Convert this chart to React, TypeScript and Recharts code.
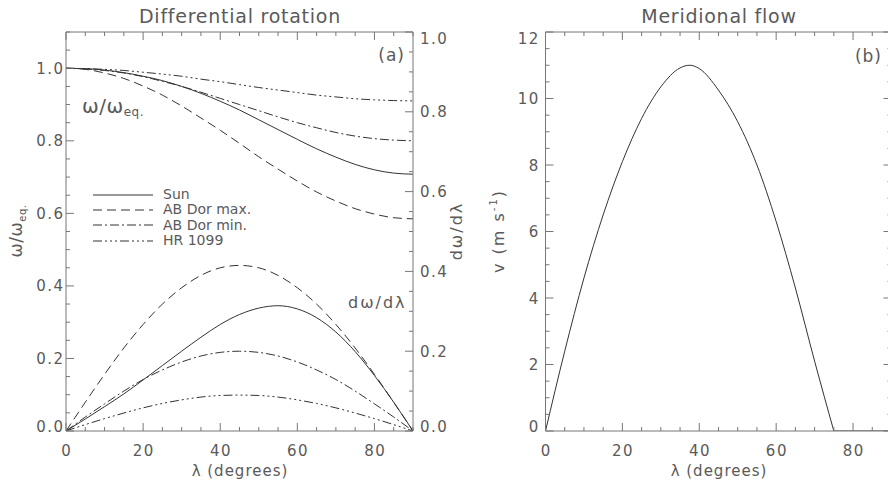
import React from "react";
import { LineChart, Line, XAxis, YAxis, Legend } from "recharts";

// latitude grid (degrees) for panel (a)
const latitude = [0, 5, 10, 15, 20, 25, 30, 35, 40, 45, 50, 55, 60, 65, 70, 75, 80, 85, 90];

// omega / omega_eq
const sunOmega = [1, 0.999, 0.995, 0.988, 0.978, 0.966, 0.95, 0.931, 0.909, 0.885, 0.858, 0.831, 0.804, 0.778, 0.755, 0.735, 0.72, 0.711, 0.708];
const abMaxOmega = [1, 0.997, 0.987, 0.972, 0.951, 0.926, 0.896, 0.863, 0.829, 0.793, 0.756, 0.722, 0.689, 0.659, 0.634, 0.613, 0.598, 0.588, 0.585];
const abMinOmega = [1, 0.998, 0.994, 0.987, 0.977, 0.964, 0.95, 0.934, 0.917, 0.9, 0.883, 0.866, 0.85, 0.836, 0.823, 0.813, 0.806, 0.802, 0.8];
const hrOmega = [1, 0.999, 0.997, 0.994, 0.989, 0.984, 0.978, 0.97, 0.963, 0.955, 0.947, 0.94, 0.933, 0.926, 0.921, 0.916, 0.913, 0.911, 0.91];

// d omega / d lambda
const sunDeriv = [0, 0.03, 0.061, 0.093, 0.128, 0.164, 0.2, 0.235, 0.267, 0.292, 0.308, 0.314, 0.306, 0.284, 0.248, 0.199, 0.139, 0.072, 0];
const abMaxDeriv = [0, 0.072, 0.142, 0.208, 0.267, 0.318, 0.359, 0.39, 0.409, 0.415, 0.409, 0.39, 0.359, 0.318, 0.267, 0.208, 0.142, 0.072, 0];
const abMinDeriv = [0, 0.035, 0.068, 0.1, 0.129, 0.153, 0.173, 0.188, 0.197, 0.2, 0.197, 0.188, 0.173, 0.153, 0.129, 0.1, 0.068, 0.035, 0];
const hrDeriv = [0, 0.016, 0.031, 0.045, 0.058, 0.069, 0.078, 0.085, 0.089, 0.09, 0.089, 0.085, 0.078, 0.069, 0.058, 0.045, 0.031, 0.016, 0];

const seriesNames = ["Sun", "AB Dor max.", "AB Dor min.", "HR 1099"];

// panel (b): meridional flow speed (m/s)
const flowLatitude = [0, 5, 10, 15, 20, 25, 30, 35, 37.5, 40, 45, 50, 55, 60, 65, 70, 75, 80, 85, 90];
const flowSpeed = [0, 2.4, 4.6, 6.5, 8.1, 9.4, 10.35, 10.92, 11.0, 10.9, 10.25, 9.3, 8.0, 6.3, 4.3, 2.1, 0, null, null, null];
const flowRest = [null, null, null, null, null, null, null, null, null, null, null, null, null, null, null, null, 0, 0, 0, 0];

// ticks (minor lists hold every tick mark, major lists the labelled ones)
const xMajor = [0, 20, 40, 60, 80];
const xMinor = [0, 5, 10, 15, 20, 25, 30, 35, 40, 45, 50, 55, 60, 65, 70, 75, 80, 85, 90];
const wMajor = [0, 0.2, 0.4, 0.6, 0.8, 1.0];
const wMinor = [0, 0.05, 0.1, 0.15, 0.2, 0.25, 0.3, 0.35, 0.4, 0.45, 0.5, 0.55, 0.6, 0.65, 0.7, 0.75, 0.8, 0.85, 0.9, 0.95, 1.0, 1.05, 1.1];
const dMajor = [0, 0.2, 0.4, 0.6, 0.8, 1.0];
const dMinor = [0, 0.05, 0.1, 0.15, 0.2, 0.25, 0.3, 0.35, 0.4, 0.45, 0.5, 0.55, 0.6, 0.65, 0.7, 0.75, 0.8, 0.85, 0.9, 0.95, 1.0];
const vMajor = [0, 2, 4, 6, 8, 10, 12];
const vMinor = [0, 0.5, 1, 1.5, 2, 2.5, 3, 3.5, 4, 4.5, 5, 5.5, 6, 6.5, 7, 7.5, 8, 8.5, 9, 9.5, 10, 10.5, 11, 11.5, 12];

const rotationRows = latitude.map((lat, i) => ({
  lat,
  sunW: sunOmega[i],
  abMaxW: abMaxOmega[i],
  abMinW: abMinOmega[i],
  hrW: hrOmega[i],
  sunD: sunDeriv[i],
  abMaxD: abMaxDeriv[i],
  abMinD: abMinDeriv[i],
  hrD: hrDeriv[i],
}));

const flowRows = flowLatitude.map((lat, i) => ({ lat, v: flowSpeed[i], rest: flowRest[i] }));

const FONT = "'DejaVu Sans', sans-serif";
const INK = "#333";
const AXIS = "#777";
const TEXT = "#5a5a5a";

const omegaKeys = ["sunW", "abMaxW", "abMinW", "hrW"];
const derivKeys = ["sunD", "abMaxD", "abMinD", "hrD"];
const dashes = [undefined, "9 5", "9 3 2 3", "9 3 2 3 2 3 2 3"];

const axisLine = { stroke: AXIS, strokeWidth: 1 };

type Side = "bottom" | "top" | "left" | "right";
type TickOpts = { majors: number[]; digits?: number; gap?: number; lo?: number; hi?: number; labels?: boolean };

// inward tick mark (long for majors) plus the label of the majors
const makeTick = (side: Side, o: TickOpts) => (p: any) => {
  const v = Number(p.payload.value);
  const x = Number(p.x);
  const y = Number(p.y);
  const major = o.majors.some((m) => Math.abs(m - v) < 1e-9);
  const len = major ? 8 : 4;
  let x2 = x, y2 = y;
  if (side === "bottom") y2 = y - len;
  if (side === "top") y2 = y + len;
  if (side === "left") x2 = x + len;
  if (side === "right") x2 = x - len;
  let label = null;
  if (major && o.labels) {
    const s = v.toFixed(o.digits ?? 0);
    const common = { fill: TEXT, fontFamily: FONT, fontSize: 15, style: { letterSpacing: 1.5 } };
    if (side === "bottom") {
      label = <text x={x + 0.75} y={y + 25} textAnchor="middle" {...common}>{s}</text>;
    } else {
      let dy = 5.5;
      if (v === o.lo) dy -= 5;
      if (v === o.hi) dy += 6;
      label = side === "left"
        ? <text x={x - (o.gap ?? 2)} y={y + dy} textAnchor="end" {...common}>{s}</text>
        : <text x={x + (o.gap ?? 7)} y={y + dy} textAnchor="start" {...common}>{s}</text>;
    }
  }
  return (
    <g>
      <line x1={x} y1={y} x2={x2} y2={y2} stroke={AXIS} strokeWidth={1} />
      {label}
    </g>
  );
};

const LegendBox = (props: any) => {
  const items = (props.payload || [])
    .filter((it: any) => omegaKeys.includes(it.dataKey))
    .sort((a: any, b: any) => omegaKeys.indexOf(a.dataKey) - omegaKeys.indexOf(b.dataKey));
  return (
    <div style={{ fontFamily: FONT, fontSize: 14, color: TEXT, lineHeight: "15.3px" }}>
      {items.map((it: any) => (
        <div key={it.dataKey} style={{ display: "flex", alignItems: "center", height: 15.3 }}>
          <svg width={70} height={6} style={{ display: "block" }}>
            <line x1={0} y1={3} x2={60} y2={3} stroke={INK} strokeWidth={1} strokeDasharray={dashes[omegaKeys.indexOf(it.dataKey)]} />
          </svg>
          <span style={{ whiteSpace: "nowrap" }}>{it.value}</span>
        </div>
      ))}
    </div>
  );
};

const RotationPanel = () => (
  <LineChart width={460} height={485} data={rotationRows} margin={{ top: 31, right: 46, bottom: 53, left: 65 }}>
    <XAxis xAxisId="b" type="number" dataKey="lat" domain={[0, 90]} allowDataOverflow ticks={xMinor} interval={0} height={1} tickSize={0} tickMargin={0} tickLine={false} axisLine={axisLine}
      tick={makeTick("bottom", { majors: xMajor, labels: true })} />
    <XAxis xAxisId="t" orientation="top" type="number" dataKey="lat" domain={[0, 90]} allowDataOverflow ticks={xMinor} interval={0} height={1} tickSize={0} tickMargin={0} tickLine={false} axisLine={axisLine}
      tick={makeTick("top", { majors: xMajor })} />
    <YAxis yAxisId="w" type="number" domain={[0, 1.1]} allowDataOverflow ticks={wMinor} interval={0} width={1} tickSize={0} tickMargin={0} tickLine={false} axisLine={axisLine}
      tick={makeTick("left", { majors: wMajor, labels: true, digits: 1, gap: 1.5, lo: 0 })} />
    <YAxis yAxisId="d" orientation="right" type="number" domain={[0, 1]} allowDataOverflow ticks={dMinor} interval={0} width={1} tickSize={0} tickMargin={0} tickLine={false} axisLine={axisLine}
      tick={makeTick("right", { majors: dMajor, labels: true, digits: 1, gap: 7, lo: 0, hi: 1 })} />
    {omegaKeys.map((k, i) => (
      <Line key={k} xAxisId="b" yAxisId="w" dataKey={k} name={seriesNames[i]} type="monotone" stroke={INK} strokeWidth={1} strokeDasharray={dashes[i]} dot={false} activeDot={false} isAnimationActive={false} />
    ))}
    {derivKeys.map((k, i) => (
      <Line key={k} xAxisId="b" yAxisId="d" dataKey={k} name={seriesNames[i]} legendType="none" type="monotone" stroke={INK} strokeWidth={1} strokeDasharray={dashes[i]} dot={false} activeDot={false} isAnimationActive={false} />
    ))}
    <Legend layout="horizontal" align="center" verticalAlign="middle" content={LegendBox} wrapperStyle={{ left: 93, top: 187, width: 200, height: 62 }} />
  </LineChart>
);

const FlowPanel = () => (
  <LineChart width={420} height={485} data={flowRows} margin={{ top: 31, right: 7.5, bottom: 53, left: 64.5 }}>
    <XAxis xAxisId="b" type="number" dataKey="lat" domain={[0, 90]} allowDataOverflow ticks={xMinor} interval={0} height={1} tickSize={0} tickMargin={0} tickLine={false} axisLine={axisLine}
      tick={makeTick("bottom", { majors: xMajor, labels: true })} />
    <XAxis xAxisId="t" orientation="top" type="number" dataKey="lat" domain={[0, 90]} allowDataOverflow ticks={xMinor} interval={0} height={1} tickSize={0} tickMargin={0} tickLine={false} axisLine={axisLine}
      tick={makeTick("top", { majors: xMajor })} />
    <YAxis yAxisId="v" type="number" domain={[0, 12]} allowDataOverflow ticks={vMinor} interval={0} width={1} tickSize={0} tickMargin={0} tickLine={false} axisLine={axisLine}
      tick={makeTick("left", { majors: vMajor, labels: true, digits: 0, gap: 5.7, lo: 0, hi: 12 })} />
    <YAxis yAxisId="r" orientation="right" type="number" domain={[0, 12]} allowDataOverflow ticks={vMinor} interval={0} width={1} tickSize={0} tickMargin={0} tickLine={false} axisLine={axisLine}
      tick={makeTick("right", { majors: vMajor })} />
    <Line xAxisId="b" yAxisId="v" dataKey="v" type="monotone" stroke={INK} strokeWidth={1} dot={false} activeDot={false} isAnimationActive={false} />
    <Line xAxisId="b" yAxisId="v" dataKey="rest" type="linear" stroke={INK} strokeWidth={1} dot={false} activeDot={false} isAnimationActive={false} />
  </LineChart>
);

const txt = { fill: TEXT, fontFamily: FONT } as const;

export default function App() {
  return (
    <div style={{ position: "absolute", left: 0, top: 0, width: 888, height: 485, overflow: "hidden", background: "#fff" }}>
      <div style={{ position: "absolute", left: 0, top: 0 }}>
        <RotationPanel />
      </div>
      <div style={{ position: "absolute", left: 480, top: 0 }}>
        <FlowPanel />
      </div>
      <svg width={888} height={485} style={{ position: "absolute", left: 0, top: 0, pointerEvents: "none" }}>
        <text x={240} y={23} textAnchor="middle" fontSize={19} style={{ letterSpacing: 0.75 }} {...txt}>Differential rotation</text>
        <text x={719} y={23} textAnchor="middle" fontSize={19} style={{ letterSpacing: 0.75 }} {...txt}>Meridional flow</text>
        <text x={240} y={476} textAnchor="middle" fontSize={15} style={{ letterSpacing: 1 }} {...txt}>λ (degrees)</text>
        <text x={719} y={476} textAnchor="middle" fontSize={15} style={{ letterSpacing: 1 }} {...txt}>λ (degrees)</text>
        <text transform="translate(22,231) rotate(-90)" textAnchor="middle" fontSize={17} style={{ letterSpacing: 0.5 }} {...txt}>
          ω/ω<tspan fontSize={10} dy={4}>eq.</tspan>
        </text>
        <text transform="translate(462,231) rotate(-90)" textAnchor="middle" fontSize={16} style={{ letterSpacing: 2 }} {...txt}>dω/dλ</text>
        <text transform="translate(504,231) rotate(-90)" textAnchor="middle" fontSize={16} style={{ letterSpacing: 2 }} {...txt}>
          v (m s<tspan fontSize={10} dy={-7}>-1</tspan><tspan dy={7}>)</tspan>
        </text>
        <text x={82} y={113} fontSize={20} style={{ letterSpacing: 0.5 }} {...txt}>
          ω/ω<tspan fontSize={12} dy={3}>eq.</tspan>
        </text>
        <text x={348} y={308} fontSize={16} style={{ letterSpacing: 2 }} {...txt}>dω/dλ</text>
        <text x={405} y={61} textAnchor="end" fontSize={17} style={{ letterSpacing: 1 }} {...txt}>(a)</text>
        <text x={882} y={62} textAnchor="end" fontSize={17} style={{ letterSpacing: 1 }} {...txt}>(b)</text>
      </svg>
    </div>
  );
}
